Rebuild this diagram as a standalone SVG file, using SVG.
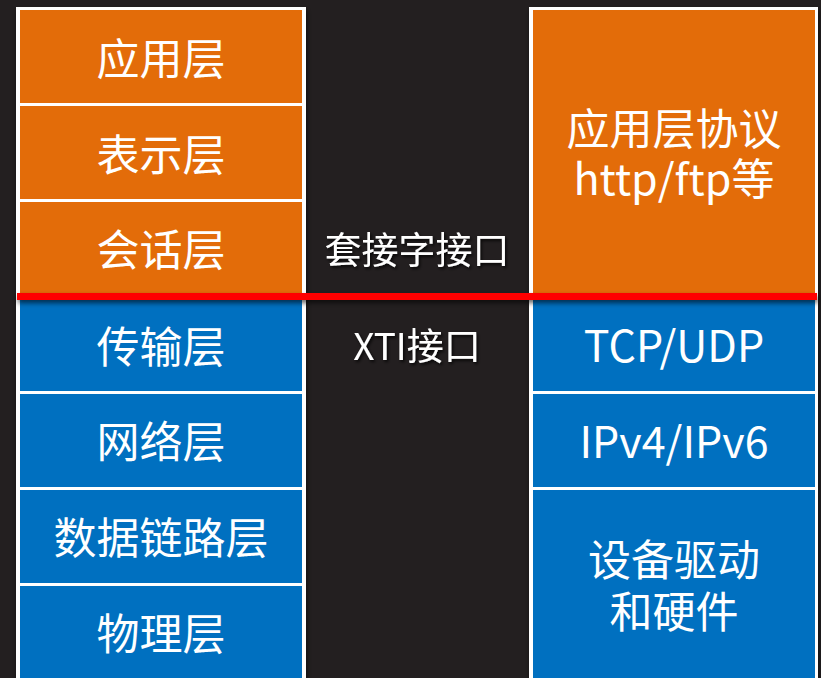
<svg xmlns="http://www.w3.org/2000/svg" width="821" height="678" viewBox="0 0 821 678">
<defs>
<style>
.o{fill:#E36C09}
.b{fill:#0070C0}
.t{fill:#fff;font-family:"Noto Sans CJK SC","Noto Sans",sans-serif;font-size:43px;text-anchor:middle;dominant-baseline:central}
.m{font-size:37px}
</style>
<filter id="sh" x="-10%" y="-50%" width="120%" height="300%">
<feDropShadow dx="1" dy="3" stdDeviation="2.5" flood-color="#000" flood-opacity="0.6"/>
</filter>
<filter id="ts" x="-10%" y="-30%" width="120%" height="160%">
<feDropShadow dx="1.5" dy="2" stdDeviation="1.5" flood-color="#000" flood-opacity="0.8"/>
</filter>
</defs>
<rect width="821" height="678" fill="#231F20"/>
<rect x="16" y="7" width="290" height="671" fill="#fff" filter="url(#sh)"/>
<rect x="529" y="7" width="289" height="671" fill="#fff" filter="url(#sh)"/>
<g id="app"><rect class="o" x="20" y="10" width="282" height="93"/><text class="t" x="161" y="56">应用层</text></g>
<g id="pres"><rect class="o" x="20" y="106" width="282" height="93"/><text class="t" x="161" y="152">表示层</text></g>
<g id="sess"><rect class="o" x="20" y="202" width="282" height="93"/><text class="t" x="161" y="247">会话层</text></g>
<g id="trans"><rect class="b" x="20" y="298" width="282" height="93"/><text class="t" x="161" y="344">传输层</text></g>
<g id="net"><rect class="b" x="20" y="394" width="282" height="93"/><text class="t" x="161" y="439">网络层</text></g>
<g id="link"><rect class="b" x="20" y="490" width="282" height="93"/><text class="t" x="161" y="535">数据链路层</text></g>
<g id="phys"><rect class="b" x="20" y="586" width="282" height="93"/><text class="t" x="161" y="631">物理层</text></g>
<g id="proto"><rect class="o" x="533" y="10" width="282" height="285"/><text class="t" x="674" y="126">应用层协议<tspan x="674" dy="50">http/ftp等</tspan></text></g>
<g id="tcp"><rect class="b" x="533" y="298" width="282" height="93"/><text class="t" x="674" y="343">TCP/UDP</text></g>
<g id="ip"><rect class="b" x="533" y="394" width="282" height="93"/><text class="t" x="674" y="439">IPv4/IPv6</text></g>
<g id="dev"><rect class="b" x="533" y="490" width="282" height="188"/><text class="t" x="674" y="557">设备驱动<tspan x="674" dy="52">和硬件</tspan></text></g>
<g id="sock"><text class="t m" x="417" y="248" filter="url(#ts)">套接字接口</text></g>
<g id="xti"><text class="t m" x="417" y="344" filter="url(#ts)">XTI接口</text></g>
<g id="connectors"><rect x="17" y="293" width="800" height="7" fill="#FF0000" filter="url(#sh)"/></g>
</svg>
